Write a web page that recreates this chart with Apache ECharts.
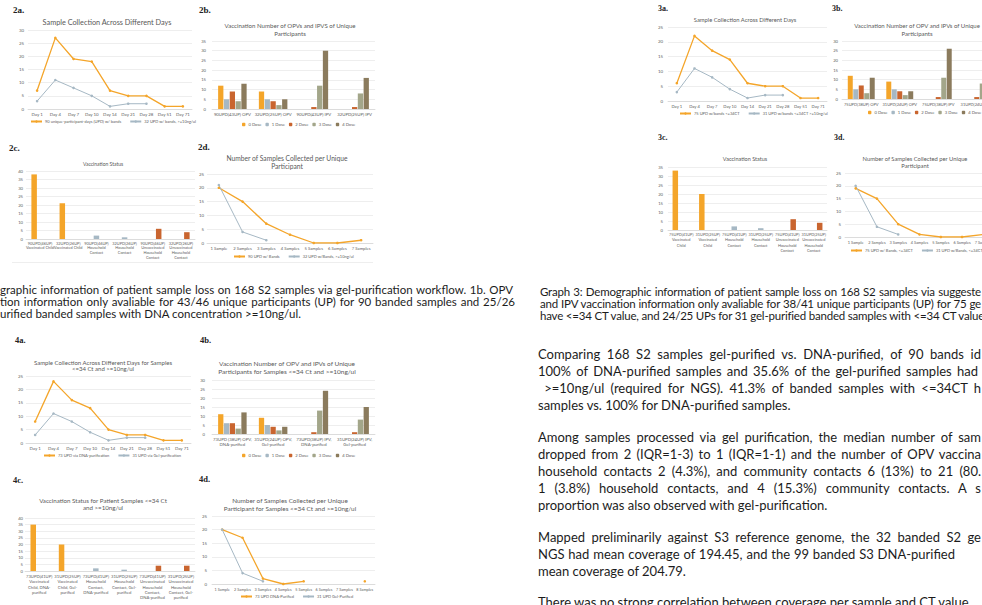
<!DOCTYPE html>
<html><head><meta charset="utf-8">
<script src="https://cdn.jsdelivr.net/npm/echarts@6/dist/echarts.min.js"></script>
<style>
html,body{margin:0;padding:0;width:982px;height:605px;overflow:hidden;background:#fff;}
#chart{position:absolute;left:0;top:0;width:982px;height:605px;}
.t{position:absolute;white-space:nowrap;font-family:Lato,'Open Sans',sans-serif;color:#1c1c1c;}
.cap{font-size:11.5px;line-height:12px;height:12px;}
.tight{letter-spacing:-0.2px;}
.par{font-size:13px;line-height:17px;height:17px;}
.j{text-align:justify;text-align-last:justify;}
.rule{position:absolute;left:12px;top:262px;width:361px;height:1px;background:#eeeeee;}
</style></head><body>
<div id="chart"></div>
<div class="rule"></div>
<div class="t cap j" style="left:0;width:513px;top:284px;">graphic information of patient sample loss on 168 S2 samples via gel-purification workflow. 1b. OPV</div>
<div class="t cap j" style="left:0;width:515px;top:296px;">tion information only avaliable for 43/46 unique participants (UP) for 90 banded samples and 25/26</div>
<div class="t cap" style="left:0;top:308px;">urified banded samples with DNA concentration &gt;=10ng/ul.</div>
<div class="t cap j tight" style="left:540px;width:441px;top:286px;">Graph 3: Demographic information of patient sample loss on 168 S2 samples via suggeste</div>
<div class="t cap j tight" style="left:540px;width:441px;top:298px;">and IPV vaccination information only avaliable for 38/41 unique participants (UP) for 75 ge</div>
<div class="t cap j tight" style="left:540px;width:441px;top:310px;">have &lt;=34 CT value, and 24/25 UPs for 31 gel-purified banded samples with &lt;=34 CT value</div>

<div class="t par j" style="left:538px;width:443px;top:346px;">Comparing 168 S2 samples gel-purified vs. DNA-purified, of 90 bands id</div>
<div class="t par j" style="left:538px;width:440px;top:363px;">100% of DNA-purified samples and 35.6% of the gel-purified samples had</div>
<div class="t par j" style="left:538px;width:443px;top:380px;">&nbsp;&gt;=10ng/ul (required for NGS). 41.3% of banded samples with &lt;=34CT h</div>
<div class="t par" style="left:538px;top:397px;">samples vs. 100% for DNA-purified samples.</div>

<div class="t par j" style="left:538px;width:443px;top:429px;">Among samples processed via gel purification, the median number of sam</div>
<div class="t par j" style="left:538px;width:443px;top:446px;">dropped from 2 (IQR=1-3) to 1 (IQR=1-1) and the number of OPV vaccina</div>
<div class="t par j" style="left:538px;width:443px;top:463px;">household contacts 2 (4.3%), and community contacts 6 (13%) to 21 (80.</div>
<div class="t par j" style="left:538px;width:443px;top:480px;">1 (3.8%) household contacts, and 4 (15.3%) community contacts. A s</div>
<div class="t par" style="left:538px;top:497px;">proportion was also observed with gel-purification.</div>

<div class="t par j" style="left:538px;width:443px;top:529px;">Mapped preliminarily against S3 reference genome, the 32 banded S2 ge</div>
<div class="t par j" style="left:538px;width:417px;top:546px;">NGS had mean coverage of 194.45, and the 99 banded S3 DNA-purified</div>
<div class="t par" style="left:538px;top:563px;">mean coverage of 204.79.</div>
<div class="t par" style="left:538px;top:594px;">There was no strong correlation between coverage per sample and CT value.</div>
<script>
// ---------- data ----------
const days = ['Day 1','Day 4','Day 7','Day 10','Day 14','Day 21','Day 28','Day 51','Day 71'];
const samples7 = ['1 Sample','2 Samples','3 Samples','4 Samples','5 Samples','6 Samples','7 Samples'];
const samples8 = ['1 Sample','2 Samples','3 Samples','4 Samples','5 Samples','6 Samples','7 Samples','8 Samples'];
const doseNames = ['0 Dose','1 Dose','2 Dose','3 Dose','4 Dose'];

// 2a
const g2aBands = [7,27,19,18,7,5,5,1,1];
const g2aConc = [3,11,8,5,1,2,2,null,null];
// 2b
const g2bCats = ['90UPD(43UP) OPV','32UPD(25UP) OPV','90UPD(43UP) IPV','32UPD(25UP) IPV'];
const g2bDoses = [[12,9,0,0],[5,5,0,0],[9,4,1,1],[4,2,12,8],[13,5,30,16]];
// 2c
const g2cCats = ['90UPD(46UP)\nVaccinated Child','32UPD(26UP)\nVaccinated Child','90UPD(46UP)\nHousehold\nContact','32UPD(26UP)\nHousehold\nContact','90UPD(46UP)\nUnvaccinated\nHousehold\nContact','32UPD(26UP)\nUnvaccinated\nHousehold\nContact'];
const g2cVacc = [38,21,0,0,0,0];
const g2cHouse = [0,0,2,1,0,0];
const g2cUnvacc = [0,0,0,0,6,4];
// 2d
const g2dBands = [20,15,7,3,0,0,1];
const g2dConc = [21,4,1];
// 4a
const g4aDna = [8,23,16,13,5,3,3,1,1];
const g4aGel = [3,11,8,4,1,2,2,null,null];
// 4b
const g4bCats = ['73UPD (38UP) OPV,\nDNA-purified','31UPD(24UP) OPV,\nGel-purified','73UPD(38UP) IPV,\nDNA-purified','31UPD(24UP) IPV,\nGel-purified'];
const g4bDoses = [[11,9,0,0],[6,5,0,0],[6,4,1,1],[3,2,13,8],[12,4,24,15]];
// 4c
const g4cCats = ['73UPD(41UP)\nVaccinated\nChild, DNA-\npurified','31UPD(25UP)\nVaccinated\nChild, Gel-\npurified','73UPD(41UP)\nHousehold\nContact,\nDNA-purified','31UPD(25UP)\nHousehold\nContact, Gel-\npurified','73UPD(41UP)\nUnvaccinated\nHousehold\nContact,\nDNA-purified','31UPD(25UP)\nUnvaccinated\nHousehold\nContact, Gel-\npurified'];
const g4cVacc = [35,20,0,0,0,0];
const g4cHouse = [0,0,2,1,0,0];
const g4cUnvacc = [0,0,0,0,4,4];
// 4d
const g4dDna = [20,17,2,0,1,null,null,1];
const g4dGel = [20,4,1];
// 3a
const g3aBands = [6,22,17,14,6,5,5,1,1];
const g3aConc = [3,11,8,4,1,2,2,null,null];
// 3b
const g3bCats = ['75UPD(38UP) OPV','31UPD(24UP) OPV','75UPD(38UP) IPV','31UPD(24UP) IPV'];
const g3bDoses = [[12,9,0,0],[5,5,0,0],[7,4,1,1],[3,2,11,8],[11,4,26,15]];
// 3c
const g3cCats = ['75UPD(41UP)\nVaccinated\nChild','31UPD(25UP)\nVaccinated\nChild','75UPD(41UP)\nHousehold\nContact','31UPD(25UP)\nHousehold\nContact','75UPD(41UP)\nUnvaccinated\nHousehold\nContact','31UPD(25UP)\nUnvaccinated\nHousehold\nContact'];
const g3cVacc = [33,20,0,0,0,0];
const g3cHouse = [0,0,2,1,0,0];
const g3cUnvacc = [0,0,0,0,6,4];
// 3d
const g3dBands = [19,15,5,1,0,0,1];
const g3dConc = [20,4,1];

// ---------- styles ----------
const FF = 'Lato, "Open Sans", sans-serif';
const SERIF = '"Liberation Serif", "DejaVu Serif", serif';
const AX = '#606060';
const ORANGE = '#F4A52A';
const BLUEGRAY = '#A6B8C4';
const RUST = '#C9652F';
const SAGE = '#A3A68A';
const BROWN = '#8B7B5D';
const doseColors = [ORANGE, BLUEGRAY, RUST, SAGE, BROWN];

const grids = [], xAxes = [], yAxes = [], series = [], legends = [], graphics = [];

function addGrid(g, cats, ymax, o) {
  const gi = grids.length;
  grids.push({left:g[0], top:g[1], width:g[2], height:g[3], containLabel:false, outerBoundsMode:'none'});
  xAxes.push({type:'category', gridIndex:gi, data:cats, boundaryGap:true,
    axisLine:{lineStyle:{color:'#d4d4d4', width:0.7}}, axisTick:{show:false},
    axisLabel:{interval:0, hideOverlap:false, fontSize:o.xfs, color:AX, fontFamily:FF, margin:o.xm, lineHeight:o.xlh}});
  yAxes.push({type:'value', gridIndex:gi, min:0, max:ymax, interval:5,
    axisLine:{show:false}, axisTick:{show:false},
    splitLine:{lineStyle:{color:'#e6e6e6', width:0.7}},
    axisLabel:{fontSize:o.yfs, color:AX, fontFamily:FF, margin:o.ym}});
  return gi;
}
function lineS(gi, name, data, color, w) {
  series.push({type:'line', name, xAxisIndex:gi, yAxisIndex:gi, data, symbol:'circle', symbolSize:2.6,
    showAllSymbol:true, connectNulls:false, lineStyle:{color, width:w}, itemStyle:{color},
    emphasis:{disabled:true}, animation:false});
}
function barS(gi, name, data, color, extra) {
  series.push(Object.assign({type:'bar', name, xAxisIndex:gi, yAxisIndex:gi, data, itemStyle:{color},
    emphasis:{disabled:true}, animation:false}, extra || {}));
}
function legend(left, top, names, isLine, fs) {
  legends.push({left, top, width:400, padding:0, data:names, selectedMode:false,
    itemWidth: isLine ? 11 : 3.4, itemHeight: isLine ? 3 : 3.4, itemGap: isLine ? 8 : 4,
    textStyle:{fontSize:fs, color:AX, fontFamily:FF, padding:[0,0,0,-2]}});
}
function title(x, ys, lines, fs) {
  lines.forEach((t, i) => graphics.push({type:'text', x, y:ys[i], silent:true,
    style:{text:t, fontSize:fs, fontFamily:FF, fill:'#595959', align:'center', verticalAlign:'middle'}}));
}
function panel(x, y, t, fs) {
  graphics.push({type:'text', x, y, silent:true,
    style:{text:t, fontSize:fs, fontFamily:SERIF, fontWeight:'bold', fill:'#222', align:'left', verticalAlign:'middle'}});
}
const lineOpt = {xfs:4.4, xm:3, xlh:5, yfs:4.4, ym:4};
const barOpt = {xfs:4.3, xm:3, xlh:5, yfs:4.2, ym:4};

function doseChart(g, cats, ymax, doses, opt) {
  const gi = addGrid(g, cats, ymax, opt);
  doses.forEach((d, i) => barS(gi, doseNames[i], d, doseColors[i], {barCategoryGap:'30%', barGap:'10%'}));
  return gi;
}
function statusChart(g, cats, ymax, vacc, house, unvacc, opt) {
  const gi = addGrid(g, cats, ymax, opt);
  barS(gi, 'Vaccinated Child', vacc, ORANGE, {barWidth:5.5, barGap:'8%'});
  barS(gi, 'Household Contact', house, BLUEGRAY, {barWidth:5.5, barGap:'8%'});
  barS(gi, 'Unvaccinated Household Contact', unvacc, RUST, {barWidth:5.5, barGap:'8%'});
  return gi;
}

// 2a
let gi = addGrid([28,30,164,79], days, 30, lineOpt);
lineS(gi, '90 unique-participant-days (UPD) w/ bands', g2aBands, ORANGE, 1.3);
lineS(gi, '32 UPD w/ bands, >=10ng/ul', g2aConc, BLUEGRAY, 1);
legend(30, 119.5, ['90 unique-participant-days (UPD) w/ bands','32 UPD w/ bands, >=10ng/ul'], true, 4);
title(107, [22], ['Sample Collection Across Different Days'], 7.3);
panel(13, 10, '2a.', 9);

// 2b
doseChart([212,41,163,68], g2bCats, 35, g2bDoses, Object.assign({}, barOpt, {ym:6}));
legend(242, 122.5, doseNames, false, 4.2);
title(290, [25,33], ['Vaccination Number of OPVs and IPVS of Unique','Participants'], 6.1);
panel(199, 10, '2b.', 9);

// 2c
statusChart([26,171,169,68], g2cCats, 40, g2cVacc, g2cHouse, g2cUnvacc, Object.assign({}, barOpt, {xfs:3.9, xlh:4.6, xm:2, ym:3}));
title(103, [164], ['Vaccination Status'], 5);
panel(9, 148, '2c.', 9);

// 2d
gi = addGrid([207,174,166,69], samples7, 25, Object.assign({}, lineOpt, {xfs:4.2, ym:3}));
lineS(gi, '90 UPD w/ Bands', g2dBands, ORANGE, 1.3);
lineS(gi, '32 UPD w/Bands, >=10ng/ul', g2dConc, BLUEGRAY, 1);
legend(233, 254.5, ['90 UPD w/ Bands','32 UPD w/Bands, >=10ng/ul'], true, 4);
title(287, [158,166], ['Number of Samples Collected per Unique','Participant'], 6.7);
panel(198, 147, '2d.', 9);

// 4a
gi = addGrid([26,376,165,67], days, 25, Object.assign({}, lineOpt, {ym:3}));
lineS(gi, '73 UPD via DNA-purification', g4aDna, ORANGE, 1.3);
lineS(gi, '31 UPD via Gel-purification', g4aGel, BLUEGRAY, 1);
legend(43, 453.5, ['73 UPD via DNA-purification','31 UPD via Gel-purification'], true, 4);
title(103, [362,368.5], ['Sample Collection Across Different Days for Samples','<=34 Ct and >=10ng/ul'], 6);
panel(15, 340, '4a.', 8.5);

// 4b
doseChart([212,380,163,54], g4bCats, 30, g4bDoses, Object.assign({}, barOpt, {ym:7}));
legend(242, 453.5, doseNames, false, 4.2);
title(287, [363,371], ['Vaccination Number of OPV and IPVs of Unique','Participants for Samples <=34 Ct and >=10ng/ul'], 6.5);
panel(200, 340, '4b.', 8.5);

// 4c
statusChart([25,518,170,53], g4cCats, 40, g4cVacc, g4cHouse, g4cUnvacc, Object.assign({}, barOpt, {xfs:4.2, xlh:5.2, xm:3, ym:2}));
title(103, [500,507], ['Vaccination Status for Patient Samples <=34 Ct','and >=10ng/ul'], 6.2);
panel(13, 480, '4c.', 8.5);

// 4d
gi = addGrid([212,516,163,68], samples8, 25, Object.assign({}, lineOpt, {xfs:3.8, ym:5}));
lineS(gi, '73 UPD DNA-Purified', g4dDna, ORANGE, 1.3);
lineS(gi, '31 UPD Gel-Purified', g4dGel, BLUEGRAY, 1);
legend(240, 594.5, ['73 UPD DNA-Purified','31 UPD Gel-Purified'], true, 4);
title(290, [500,508], ['Number of Samples Collected per Unique','Participant for Samples <=34 Ct and >=10ng/ul'], 6.4);
panel(199, 479, '4d.', 8.5);

// 3a
gi = addGrid([668,27,159,74], days, 25, Object.assign({}, lineOpt, {xfs:4.2, ym:5}));
lineS(gi, '75 UPD w/bands <=34CT', g3aBands, ORANGE, 1.3);
lineS(gi, '31 UPD w/bands <=34CT >=10ng/ul', g3aConc, BLUEGRAY, 1);
legend(679, 111.5, ['75 UPD w/bands <=34CT','31 UPD w/bands <=34CT >=10ng/ul'], true, 4);
title(745, [19], ['Sample Collection Across Different Days'], 5.8);
panel(658, 8, '3a.', 8);

// 3b
doseChart([842,41,154,58], g3bCats, 30, g3bDoses, Object.assign({}, barOpt, {xfs:4, ym:4}));
legend(868, 110.5, doseNames, false, 4.2);
title(917, [25,33], ['Vaccination Number of OPV and IPVs of Unique','Participants'], 6);
panel(832, 8, '3b.', 8);

// 3c
statusChart([668,167,159,63], g3cCats, 35, g3cVacc, g3cHouse, g3cUnvacc, Object.assign({}, barOpt, {xfs:3.9, xlh:5.2, xm:2, ym:5}));
title(745, [159], ['Vaccination Status'], 5.5);
panel(658, 137, '3c.', 8);

// 3d
gi = addGrid([845,173,149,64], samples7, 25, Object.assign({}, lineOpt, {xfs:3.9, ym:4}));
lineS(gi, '75 UPD w/ Bands, <=34CT', g3dBands, ORANGE, 1.3);
lineS(gi, '31 UPD w/Bands, <=34CT , >=10ng/ul', g3dConc, BLUEGRAY, 1);
legend(850, 248.5, ['75 UPD w/ Bands, <=34CT','31 UPD w/Bands, <=34CT , >=10ng/ul'], true, 4);
title(915, [158,165], ['Number of Samples Collected per Unique','Participant'], 5.8);
panel(834, 137, '3d.', 8);

const chart = echarts.init(document.getElementById('chart'), null, {renderer:'svg', width:982, height:605});
chart.setOption({animation:false, backgroundColor:'#fff', grid:grids, xAxis:xAxes, yAxis:yAxes,
  series, legend:legends, graphic:graphics, tooltip:{show:false}});
</script>
</body></html>
